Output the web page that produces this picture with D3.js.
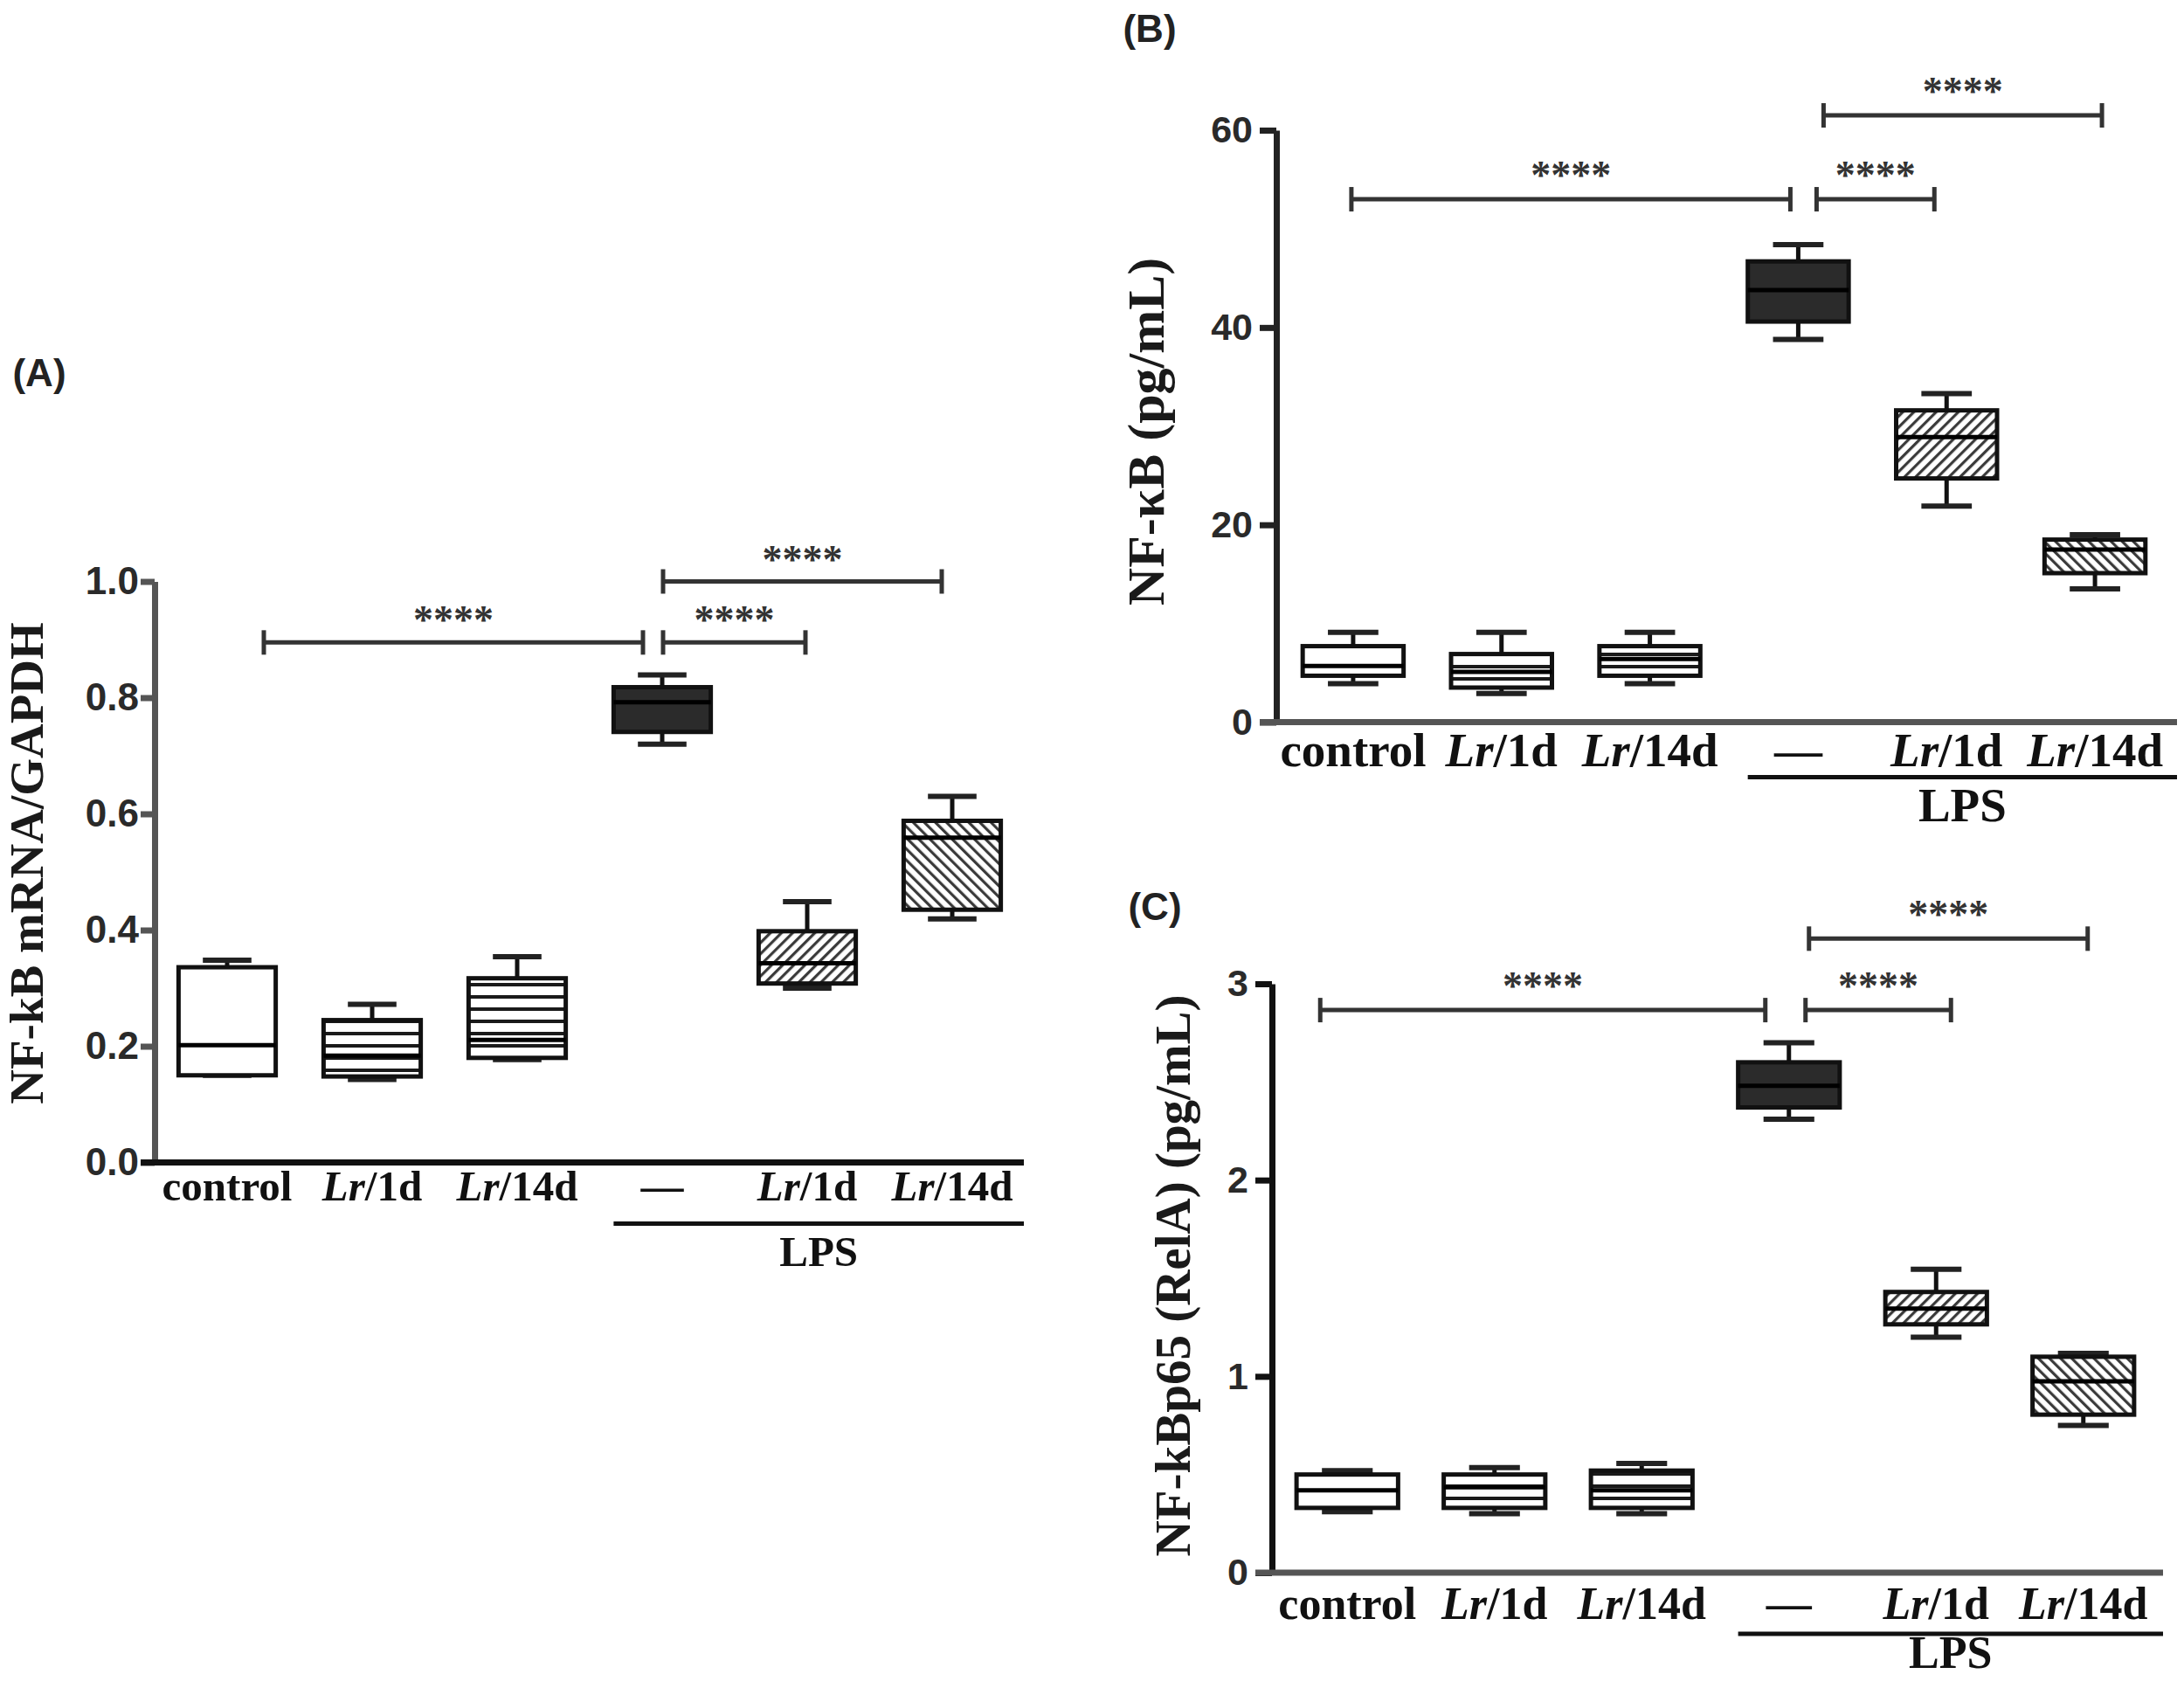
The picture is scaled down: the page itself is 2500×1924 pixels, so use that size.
<!DOCTYPE html>
<html><head><meta charset="utf-8">
<script src="https://cdn.jsdelivr.net/npm/d3@7"></script>
<style>body{margin:0;background:#fff}</style>
</head><body>
<svg id="c" width="2500" height="1924" xmlns="http://www.w3.org/2000/svg"></svg>
<script>
// ---------------- DATA ----------------
const groups = ["control", "Lr/1d", "Lr/14d", "LPS", "LPS+Lr/1d", "LPS+Lr/14d"];
// label parts: [italic part, upright part]
const groupLabels = [["", "control"], ["Lr", "/1d"], ["Lr", "/14d"], ["", "\u2014"], ["Lr", "/1d"], ["Lr", "/14d"]];
const lpsLabel = "LPS";
const sigText = "****";

// Panel A: NF-kB mRNA/GAPDH
const aMin = [0.150, 0.143, 0.177, 0.720, 0.300, 0.419];
const aQ1  = [0.150, 0.148, 0.180, 0.741, 0.308, 0.435];
const aMed = [0.202, 0.184, 0.211, 0.792, 0.343, 0.559];
const aQ3  = [0.336, 0.245, 0.317, 0.818, 0.398, 0.588];
const aMax = [0.348, 0.272, 0.354, 0.839, 0.449, 0.630];
const aTicks = [0, 0.2, 0.4, 0.6, 0.8, 1.0];
const aTickLabels = ["0.0", "0.2", "0.4", "0.6", "0.8", "1.0"];
const aSig = [[0, 3, 0.895], [3, 4, 0.895], [3, 5, 1.0]];

// Panel B: NF-kB (pg/mL)
const bMin = [3.9, 2.9, 3.9, 38.8, 21.9, 13.5];
const bQ1  = [4.7, 3.5, 4.7, 40.6, 24.7, 15.1];
const bMed = [5.7, 5.1, 6.4, 43.8, 28.9, 17.5];
const bQ3  = [7.7, 6.9, 7.7, 46.7, 31.6, 18.5];
const bMax = [9.1, 9.1, 9.1, 48.4, 33.3, 19.0];
const bTicks = [0, 20, 40, 60];
const bTickLabels = ["0", "20", "40", "60"];
const bSig = [[0, 3, 53.0], [3, 4, 53.0], [3, 5, 61.5]];

// Panel C: NF-kBp65 (RelA) (pg/mL)
const cMin = [0.31, 0.30, 0.30, 2.31, 1.20, 0.75];
const cQ1  = [0.33, 0.33, 0.33, 2.37, 1.265, 0.805];
const cMed = [0.42, 0.435, 0.42, 2.48, 1.345, 0.975];
const cQ3  = [0.50, 0.50, 0.52, 2.60, 1.43, 1.10];
const cMax = [0.52, 0.535, 0.556, 2.70, 1.546, 1.117];
const cTicks = [0, 1, 2, 3];
const cTickLabels = ["0", "1", "2", "3"];
const cSig = [[0, 3, 2.866], [3, 4, 2.866], [3, 5, 3.23]];

const yTitles = ["NF-kB mRNA/GAPDH", "NF-\u03BAB (pg/mL)", "NF-kBp65 (RelA) (pg/mL)"];
const panelTags = ["(A)", "(B)", "(C)"];

// ---------------- STYLE / LAYOUT ----------------
const serif = "'Liberation Serif','Times New Roman',serif";
const sans = "'Liberation Sans',Arial,sans-serif";
const fills = ["#ffffff", "url(#hl)", "url(#hl)", "#2b2b2b", "url(#dR)", "url(#dL)"];

const svg = d3.select("#c");
svg.append("rect").attr("width", 2500).attr("height", 1924).attr("fill", "#fff");
const defs = svg.append("defs");
function hlines(id, sp, w) {
  const p = defs.append("pattern").attr("id", id).attr("patternUnits", "userSpaceOnUse")
    .attr("width", 20).attr("height", sp);
  p.append("rect").attr("width", 20).attr("height", sp).attr("fill", "#fff");
  p.append("rect").attr("x", 0).attr("y", sp / 2 - w / 2).attr("width", 20).attr("height", w).attr("fill", "#1a1a1a");
}
function diag(id, sp, w, ang) {
  const p = defs.append("pattern").attr("id", id).attr("patternUnits", "userSpaceOnUse")
    .attr("width", sp).attr("height", sp).attr("patternTransform", `rotate(${ang})`);
  p.append("rect").attr("width", sp).attr("height", sp).attr("fill", "#fff");
  p.append("rect").attr("x", 0).attr("y", 0).attr("width", w).attr("height", sp).attr("fill", "#3a3a3a");
}
hlines("hl", 14, 4);
diag("dR", 9, 3.2, 45);
diag("dL", 9, 3.2, -45);

const layouts = [
  { axisX: 177, y0: 1330.5, y1: 665.5, domain: [0, 1], xr: [177, 1173], pad: 0.33, xEnd: 1172,
    tickLen: 16, tickPad: 2, tickFont: 44, yAxisColor: "#555", xAxisColor: "#111", axisW: 7,
    labelFont: 49, labelDy: 26, lpsLineDy: 70, lpsTextDy: 102,
    titleX: 30, titleY: 988, titleFont: 55, tagX: 45, tagY: 426,
    nudge: [[42, -22], [1, -2], [1, -12]], starDy: 32 },
  { axisX: 1461, y0: 826.5, y1: 149, domain: [0, 60], xr: [1464, 2483], pad: 0.32, xEnd: 2492,
    tickLen: 19, tickPad: 8, tickFont: 43, yAxisColor: "#222", xAxisColor: "#555", axisW: 7,
    labelFont: 55, labelDy: 31, lpsLineDy: 63, lpsTextDy: 95,
    titleX: 1312, titleY: 494, titleFont: 60, tagX: 1316, tagY: 32,
    nudge: [[-2, -9], [21, -14], [29, 8]], starDy: 34 },
  { axisX: 1456, y0: 1800, y1: 1126, domain: [0, 3], xr: [1458, 2469], pad: 0.31, xEnd: 2476,
    tickLen: 19, tickPad: 8, tickFont: 43, yAxisColor: "#111", xAxisColor: "#555", axisW: 7,
    labelFont: 52, labelDy: 35, lpsLineDy: 70, lpsTextDy: 91,
    titleX: 1342, titleY: 1460, titleFont: 57, tagX: 1322, tagY: 1037,
    nudge: [[-31, -27], [19, 17], [23, 5]], starDy: 34 }
];

const panelData = [
  { min: aMin, q1: aQ1, med: aMed, q3: aQ3, max: aMax, ticks: aTicks, tickLabels: aTickLabels, sig: aSig },
  { min: bMin, q1: bQ1, med: bMed, q3: bQ3, max: bMax, ticks: bTicks, tickLabels: bTickLabels, sig: bSig },
  { min: cMin, q1: cQ1, med: cMed, q3: cQ3, max: cMax, ticks: cTicks, tickLabels: cTickLabels, sig: cSig }
];

function drawPanel(L, D, p) {
  const g = svg.append("g");
  const y = d3.scaleLinear().domain(L.domain).range([L.y0, L.y1]);
  const x = d3.scaleBand().domain(groups).range(L.xr).paddingInner(L.pad).paddingOuter(L.pad / 2);
  const bw = x.bandwidth();
  const cx = d => x(d) + bw / 2;

  // y axis
  const ya = g.append("g").attr("transform", `translate(${L.axisX},0)`)
    .call(d3.axisLeft(y).tickValues(D.ticks).tickFormat((d, i) => D.tickLabels[i])
      .tickSize(L.tickLen).tickSizeOuter(0).tickPadding(L.tickPad));
  ya.select(".domain").attr("stroke", L.yAxisColor).attr("stroke-width", L.axisW);
  ya.selectAll(".tick line").attr("stroke", L.yAxisColor).attr("stroke-width", L.axisW);
  ya.selectAll(".tick text").attr("font-family", sans).attr("font-weight", "bold")
    .attr("font-size", L.tickFont).attr("fill", "#2a2a2a");

  // x axis line
  g.append("line").attr("x1", L.axisX - L.tickLen).attr("x2", L.xEnd)
    .attr("y1", y(0)).attr("y2", y(0)).attr("stroke", L.xAxisColor).attr("stroke-width", L.axisW);

  // boxes
  const capW = bw * 0.5;
  const bx = g.selectAll(".box").data(groups).join("g").attr("class", "box");
  bx.append("line").attr("x1", d => cx(d)).attr("x2", d => cx(d))
    .attr("y1", (d, i) => y(D.max[i])).attr("y2", (d, i) => y(D.q3[i]))
    .attr("stroke", "#111").attr("stroke-width", 5);
  bx.append("line").attr("x1", d => cx(d)).attr("x2", d => cx(d))
    .attr("y1", (d, i) => y(D.min[i])).attr("y2", (d, i) => y(D.q1[i]))
    .attr("stroke", "#111").attr("stroke-width", 5);
  bx.append("line").attr("x1", d => cx(d) - capW / 2).attr("x2", d => cx(d) + capW / 2)
    .attr("y1", (d, i) => y(D.max[i])).attr("y2", (d, i) => y(D.max[i]))
    .attr("stroke", "#222").attr("stroke-width", 6);
  bx.append("line").attr("x1", d => cx(d) - capW / 2).attr("x2", d => cx(d) + capW / 2)
    .attr("y1", (d, i) => y(D.min[i])).attr("y2", (d, i) => y(D.min[i]))
    .attr("stroke", "#222").attr("stroke-width", 6);
  bx.append("rect").attr("x", d => x(d)).attr("width", bw)
    .attr("y", (d, i) => y(D.q3[i])).attr("height", (d, i) => y(D.q1[i]) - y(D.q3[i]))
    .attr("fill", (d, i) => fills[i]).attr("stroke", "#111").attr("stroke-width", 5);
  bx.append("line").attr("x1", d => x(d)).attr("x2", d => x(d) + bw)
    .attr("y1", (d, i) => y(D.med[i])).attr("y2", (d, i) => y(D.med[i]))
    .attr("stroke", "#000").attr("stroke-width", 5);

  // category labels
  const lab = g.selectAll(".lab").data(groups).join("text").attr("class", "lab")
    .attr("x", d => cx(d)).attr("y", y(0) + L.labelDy).attr("text-anchor", "middle")
    .attr("dominant-baseline", "central")
    .attr("font-family", serif).attr("font-weight", "bold").attr("font-size", L.labelFont).attr("fill", "#111");
  lab.each(function (d, i) {
    const t = d3.select(this);
    if (groupLabels[i][0]) t.append("tspan").attr("font-style", "italic").text(groupLabels[i][0]);
    t.append("tspan").text(groupLabels[i][1]);
  });

  // LPS group line
  const lx1 = x(groups[3]), lx2 = L.xEnd;
  g.append("line").attr("x1", lx1).attr("x2", lx2).attr("y1", y(0) + L.lpsLineDy).attr("y2", y(0) + L.lpsLineDy)
    .attr("stroke", "#111").attr("stroke-width", 5);
  g.append("text").attr("x", (lx1 + lx2) / 2).attr("y", y(0) + L.lpsTextDy).attr("text-anchor", "middle")
    .attr("dominant-baseline", "central").attr("font-family", serif).attr("font-weight", "bold")
    .attr("font-size", L.labelFont).attr("fill", "#111").text(lpsLabel);

  // significance brackets
  D.sig.forEach((s, k) => {
    const x1 = cx(groups[s[0]]) + L.nudge[k][0];
    const x2 = cx(groups[s[1]]) + L.nudge[k][1];
    const yy = y(s[2]);
    g.append("line").attr("x1", x1).attr("x2", x2).attr("y1", yy).attr("y2", yy)
      .attr("stroke", "#333").attr("stroke-width", 5);
    [x1, x2].forEach(xx => g.append("line").attr("x1", xx).attr("x2", xx)
      .attr("y1", yy - 14).attr("y2", yy + 14).attr("stroke", "#333").attr("stroke-width", 5));
    g.append("text").attr("x", (x1 + x2) / 2).attr("y", yy - L.starDy + 22).attr("text-anchor", "middle")
      .attr("font-family", serif).attr("font-weight", "bold").attr("font-size", 46).attr("fill", "#333")
      .text(sigText);
  });

  // y title
  g.append("text").attr("transform", `translate(${L.titleX},${L.titleY}) rotate(-90)`)
    .attr("text-anchor", "middle").attr("dominant-baseline", "central")
    .attr("font-family", serif).attr("font-weight", "bold").attr("font-size", L.titleFont).attr("fill", "#1a1a1a")
    .text(yTitles[p]);

  // panel tag
  svg.append("text").attr("x", L.tagX).attr("y", L.tagY).attr("text-anchor", "middle")
    .attr("dominant-baseline", "central").attr("font-family", sans).attr("font-weight", "bold")
    .attr("font-size", 44).attr("fill", "#222").text(panelTags[p]);
}

layouts.forEach((L, p) => drawPanel(L, panelData[p], p));
</script>
</body></html>
